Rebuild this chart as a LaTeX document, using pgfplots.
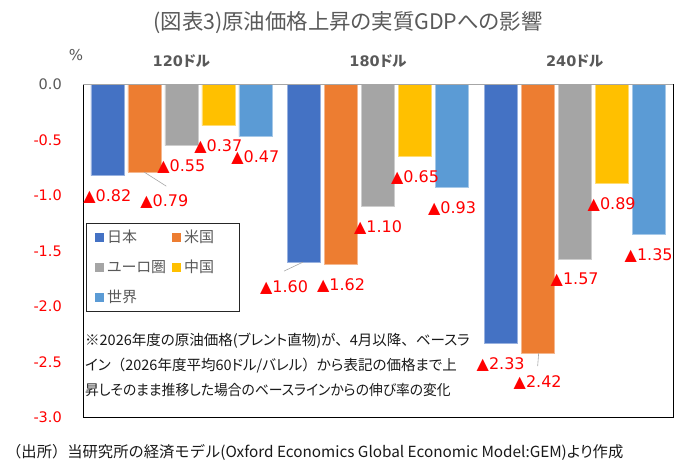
\documentclass[border=0pt]{standalone}
\usepackage{fontspec}
\setmainfont[RawFeature=+palt]{Noto Sans CJK JP}
\newfontfamily\jp{Noto Sans CJK JP}
\newfontfamily\jpc[RawFeature=+palt, FakeStretch=0.95]{Noto Sans CJK JP}
\newfontfamily\dv{DejaVu Sans}
\usepackage{pgfplots}
\pgfplotsset{compat=1.18}
\usepackage{pgfplotstable}
\definecolor{cJP}{HTML}{4472C4}
\definecolor{cUS}{HTML}{ED7D31}
\definecolor{cEU}{HTML}{A5A5A5}
\definecolor{cCN}{HTML}{FFC000}
\definecolor{cWD}{HTML}{5B9BD5}
\definecolor{tgray}{HTML}{595959}
\definecolor{lgray}{HTML}{A6A6A6}
\definecolor{lred}{HTML}{FF0000}

% x = scenario (0:120, 1:180, 2:240 USD), y = change in real GDP (%), dx/dy = label offset (pt)
\pgfplotstableread{
x y dx dy
0 -0.82 0 0
1 -1.60 -20 -4
2 -2.33 0 0
}\tJP
\pgfplotstableread{
x y dx dy
0 -0.79 20 -8
1 -1.62 0 0
2 -2.42 0 -8
}\tUS
\pgfplotstableread{
x y dx dy
0 -0.55 0 0
1 -1.10 0 0
2 -1.57 0 0
}\tEU
\pgfplotstableread{
x y dx dy
0 -0.37 0 0
1 -0.65 0 0
2 -0.89 0 0
}\tCN
\pgfplotstableread{
x y dx dy
0 -0.47 0 0
1 -0.93 0 0
2 -1.35 0 0
}\tWD

\pgfplotsset{
  sqlegend/.style={legend image code/.code={\fill[##1,draw=none] (0pt,-4.5pt) rectangle (9pt,4.5pt);}},
  barstyle/.style={fill=#1, draw=#1!55!white, line width=0.5pt, sqlegend,
    visualization depends on={\thisrow{dx}\as\dx},
    visualization depends on={\thisrow{dy}\as\dy},
    point meta={-\thisrow{y}},
    nodes near coords={\textcolor{lred}{\dv ▲\pgfmathprintnumber[fixed,fixed zerofill,precision=2]{\pgfplotspointmeta}}},
    nodes near coords style={anchor=center, inner sep=0pt, font=\fontsize{16pt}{16pt}\selectfont\dv,
      xshift=\dx pt, yshift={\dy pt-21pt}},
  },
}

\begin{document}
\begin{tikzpicture}
\path[use as bounding box] (0pt,0pt) rectangle (689pt,461pt);
\begin{axis}[
  at={(83pt,43.5pt)}, anchor=south west,
  scale only axis, width=590pt, height=333pt,
  ybar=4pt, bar width=33pt,
  xmin=-0.5, xmax=2.5, ymin=-3, ymax=0,
  xtick={0,1,2},
  xticklabels={{{\dv\bfseries 120}{\bfseries ドル}},{{\dv\bfseries 180}{\bfseries ドル}},{{\dv\bfseries 240}{\bfseries ドル}}},
  xticklabel pos=upper,
  xticklabel style={anchor=base, yshift=18pt, text=tgray, font=\fontsize{14.5pt}{14.5pt}\selectfont},
  ytick={0,-0.5,-1,-1.5,-2,-2.5,-3},
  yticklabels={{\textcolor{tgray}{0.0}},-0.5,-1.0,-1.5,-2.0,-2.5,-3.0},
  yticklabel style={anchor=east, inner sep=0pt, xshift=-21pt, text=lred, font=\fontsize{14.5pt}{14.5pt}\selectfont\dv},
  major tick length=0pt,
  axis line style={black, line width=0.8pt},
  /pgf/number format/assume math mode=true,
  clip=false,
  legend columns=2,
  legend cell align=left,
  legend style={at={(axis description cs:0.0203,0.5631)}, anchor=north west,
    draw=none, fill=none, inner sep=0pt, row sep=16pt,
    font=\fontsize{15pt}{15pt}\selectfont, text=tgray,
    nodes={inner xsep=3pt, inner ysep=0pt},
    /tikz/every even column/.append style={column sep=3pt}},
]
\addplot[barstyle=cJP] table[x=x,y=y] {\tJP};
\addplot[barstyle=cUS] table[x=x,y=y] {\tUS};
\addplot[barstyle=cEU] table[x=x,y=y] {\tEU};
\addplot[barstyle=cCN] table[x=x,y=y] {\tCN};
\addplot[barstyle=cWD] table[x=x,y=y] {\tWD};
\legend{日本,米国,ユーロ圏,中国,世界}
% zero line
\draw[lgray, line width=0.8pt] (rel axis cs:0,1) -- (rel axis cs:1,1);
% leader lines
\draw[lgray, line width=0.6pt] ([xshift=-37pt]axis cs:0,-0.79) -- ([xshift=-15pt,yshift=-14pt]axis cs:0,-0.79);
\draw[lgray, line width=0.6pt] ([xshift=-75pt]axis cs:1,-1.60) -- ([xshift=-94pt,yshift=-9pt]axis cs:1,-1.60);
\draw[lgray, line width=0.6pt] ([xshift=-36pt]axis cs:2,-2.42) -- ([xshift=-37pt,yshift=-13pt]axis cs:2,-2.42);
% legend frame
\draw[black!85, line width=0.8pt] (axis description cs:0.0051,0.5841) rectangle (axis description cs:0.2644,0.3198);
\end{axis}
\node[anchor=base, text=tgray, font=\fontsize{21.4pt}{21.4pt}\selectfont] at (348pt,431pt) {(図表3)原油価格上昇の実質GDPへの影響};
\node[anchor=base, text=tgray, font=\fontsize{15pt}{15pt}\selectfont\dv] at (76pt,400.5pt) {\%};
\begin{scope}[every node/.style={anchor=base west, inner sep=0pt, text=black!90, font=\fontsize{14.5pt}{14.5pt}\selectfont}]
\node at (85pt,115.5pt) {※2026年度の原油価格(ブレント直物)が{\jp 、}4月以降{\jp 、}ベースラ};
\node at (85pt,90.5pt) {イン{\jp （}2026年度平均60ドル/バレル{\jp ）}から表記の価格まで上};
\node at (85pt,65.5pt) {\jpc 昇しそのまま推移した場合のベースラインからの伸び率の変化};
\node[font=\fontsize{15.3pt}{15.3pt}\selectfont] at (6pt,3.5pt) {{\jp （出所）当研究所の経済モデル}(Oxford Economics Global Economic Model:GEM)より作成};
\end{scope}
\end{tikzpicture}
\end{document}
